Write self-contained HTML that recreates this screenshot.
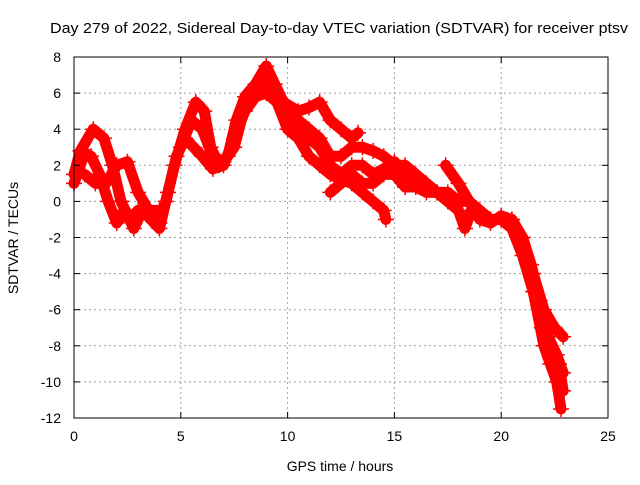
<!DOCTYPE html>
<html><head><meta charset="utf-8"><style>
body{margin:0;background:#fff}
svg text{font-family:"Liberation Sans",sans-serif;font-size:14px;fill:#000}
</style></head><body>
<svg id="chart" width="640" height="480" xmlns="http://www.w3.org/2000/svg">
<text x="50" y="33" textLength="578" lengthAdjust="spacingAndGlyphs" style="font-size:15px">Day 279 of 2022, Sidereal Day-to-day VTEC variation (SDTVAR) for receiver ptsv</text>
<g id="grid"></g>
<g id="series"></g>
<rect x="74" y="57" width="534" height="361" fill="none" stroke="#000" stroke-width="1"/>
<g id="ticks"></g>
<text x="340" y="471" text-anchor="middle">GPS time / hours</text>
<text transform="translate(18,238) rotate(-90)" text-anchor="middle">SDTVAR / TECUs</text>
</svg>
<script>
const xTicks=[0,5,10,15,20,25];
const yTicks=[8,6,4,2,0,-2,-4,-6,-8,-10,-12];
const trackA=[[0,1.5],[0.3,2.8],[0.9,4.0],[1.4,3.5],[1.8,2],[2.2,0],[2.6,-1],[3,-0.5],[3.5,-0.5],[4,-1.2],[4.3,0],[4.7,2],[5.2,4],[5.7,5.5],[6.1,5],[6.4,3],[6.8,2],[7.2,2.5],[7.6,4.5],[8,5.8],[8.5,6.5],[9,7.5],[9.4,6.5],[9.8,5.5],[10.5,5],[11,5.2],[11.5,5.5],[12,4.5],[12.5,4],[13,3.5],[13.3,3.8]];
const trackB=[[0,1],[0.5,2.7],[0.8,2.5],[1.2,1.5],[1.6,0],[2,-1.2],[2.4,-0.5],[2.8,-1.5],[3.2,-0.5],[3.6,-1],[4,-1.5],[4.4,0.5],[4.8,2.5],[5.2,3.5],[5.6,3],[6,2.5],[6.5,1.8],[7,2],[7.5,3.5],[8,5],[8.5,5.8],[9,6],[9.5,5.5],[10,4],[10.5,3.5],[11,2.5],[11.5,2],[12,1.5],[12.5,1.2],[13,1],[13.5,0.5],[14,0],[14.5,-0.5],[14.6,-1]];
const trackC=[[10.5,4.5],[11,4],[11.5,3.5],[12,2.5],[12.5,2.5],[13,3],[13.5,3],[14,2.8],[14.5,2.5],[15,2],[15.5,2],[16,1.5],[16.5,1],[17,0.5],[17.5,0.5],[18,0],[18.5,0],[19,-0.5],[19.5,-1],[20,-1],[20.5,-1],[21,-2],[21.5,-4],[22,-6],[22.5,-7],[22.9,-7.5]];
const trackD=[[12,0.5],[13,1.5],[13.5,1],[14,1],[14.5,1.5],[15,1.5],[15.5,0.8],[16,0.8],[16.5,0.5],[17,0.5],[17.5,0]];
const trackE=[[17.4,2],[18,1],[18.5,0],[19,-1],[19.5,-1.2],[20,-0.8],[20.5,-1],[21,-2.5],[21.5,-5],[22,-8],[22.3,-9],[22.6,-10],[22.8,-11.5]];
const trackF=[[20,-1],[20.5,-1.5],[21,-3],[21.5,-5],[21.9,-7],[22.3,-8.7],[22.7,-9],[22.9,-10.5]];
const trackG=[[17,0.5],[17.5,0],[18,-0.5],[18.3,-1.5],[18.6,-0.5],[19,-0.8]];
const trackH=[[0.5,1.5],[1,1],[1.5,1],[2,2],[2.5,2.2],[3,0.5],[3.5,-0.5],[4,-0.5]];
const trackI=[[5,3],[5.5,4.5],[6,4],[6.5,2.5],[7,2.2],[7.5,3],[8,5.3],[8.5,6],[9,6.8],[9.5,6],[10,5],[10.5,4.2],[11,3.5],[11.5,3],[12,2],[12.5,1.5],[13,2],[13.5,2],[14,1.5],[14.5,1.8],[15,2.2],[15.5,1.5],[16,0.8]];
const trackJ=[[21,-2],[21.4,-3.5],[21.8,-5.5],[22.2,-7.5],[22.6,-8.5],[22.9,-9.5]];
const tracks=[trackA,trackB,trackC,trackD,trackE,trackF,trackG,trackH,trackI,trackJ];
const X0=74,X1=608,Y0=418,Y1=57;
const sx=v=>X0+(v-0)/25*(X1-X0);
const sy=v=>Y0-(v+12)/20*(Y0-Y1);
const NS="http://www.w3.org/2000/svg";
const grid=document.getElementById('grid'),ticks=document.getElementById('ticks'),ser=document.getElementById('series');
function mk(t,a,p){const e=document.createElementNS(NS,t);for(const k in a)e.setAttribute(k,a[k]);p.appendChild(e);return e;}
xTicks.forEach(v=>{
 const x=sx(v);
 if(v>0&&v<25){const g=mk('line',{x1:x,x2:x,y1:Y1,y2:Y0,stroke:'#a0a0a0','stroke-dasharray':'2,3'},grid);
 
 }
 const t=mk('text',{x:x,y:Y0+23,'text-anchor':'middle'},ticks);t.textContent=v;
 
 
 mk('line',{x1:x,x2:x,y1:Y0,y2:Y0-6,stroke:'#000'},ticks);
 mk('line',{x1:x,x2:x,y1:Y1,y2:Y1+6,stroke:'#000'},ticks);
});
yTicks.forEach(v=>{
 const y=sy(v);
 if(v>-12&&v<8){const g=mk('line',{x1:X0,x2:X1,y1:y,y2:y,stroke:'#a0a0a0','stroke-dasharray':'2,3'},grid);
 
 }
 const t=mk('text',{x:X0-13,y:y+5,'text-anchor':'end'},ticks);t.textContent=v;
 
 
 mk('line',{x1:X0,x2:X0+6,y1:y,y2:y,stroke:'#000'},ticks);
 mk('line',{x1:X1,x2:X1-6,y1:y,y2:y,stroke:'#000'},ticks);
});
tracks.forEach((tr,i)=>{
 const p=mk('polyline',{points:tr.map(d=>sx(d[0])+','+sy(d[1])).join(' '),fill:'none',stroke:'#ff0000','stroke-width':11,'stroke-linejoin':'round','stroke-linecap':'round'},ser);
 
 
 tr.forEach(d=>{
  const x=sx(d[0]),y=sy(d[1]);
  const m=mk('path',{d:`M${x-8},${y}H${x+8}M${x},${y-8}V${y+8}`,stroke:'#ff0000','stroke-width':1.5},ser);
  
  
 });
});
</script>
</body></html>
